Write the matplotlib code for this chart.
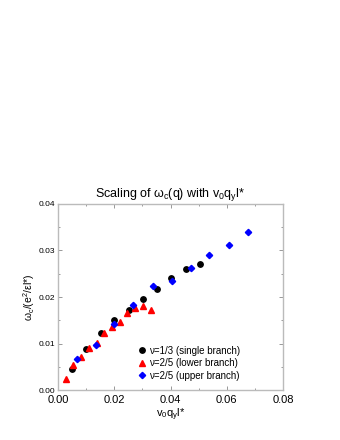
import matplotlib
matplotlib.use("Agg")
import matplotlib.pyplot as plt
from matplotlib.ticker import MultipleLocator

plt.rcParams['font.family'] = ['Liberation Sans', 'DejaVu Sans']
plt.rcParams['mathtext.fontset'] = 'custom'
plt.rcParams['mathtext.rm'] = 'Liberation Sans'
plt.rcParams['mathtext.it'] = 'Liberation Sans'

# nu=1/3 (single branch)
x13 = [0.0050, 0.0101, 0.0152, 0.0200, 0.0252, 0.0302, 0.0353, 0.0403, 0.0454, 0.0504]
y13 = [0.0046, 0.0088, 0.0123, 0.0151, 0.0173, 0.0196, 0.0218, 0.0240, 0.0260, 0.0272]

# nu=2/5 (lower branch)
x25_lo = [0.0027, 0.0055, 0.0082, 0.0110, 0.0137, 0.0164, 0.0192, 0.0219, 0.0246, 0.0274, 0.0301, 0.0329]
y25_lo = [0.0024, 0.0054, 0.0070, 0.0090, 0.0102, 0.0122, 0.0136, 0.0146, 0.0165, 0.0177, 0.0180, 0.0172]

# nu=2/5 (upper branch)
x25_up = [0.0068, 0.0134, 0.0200, 0.0268, 0.0337, 0.0404, 0.0472, 0.0538, 0.0607, 0.0674]
y25_up = [0.0067, 0.0096, 0.0143, 0.0183, 0.0224, 0.0234, 0.0262, 0.0290, 0.0312, 0.0340]

labels = ['\u03bd=1/3 (single branch)', '\u03bd=2/5 (lower branch)', '\u03bd=2/5 (upper branch)']

fig = plt.figure(figsize=(3.4, 4.4), dpi=100)
ax = fig.add_axes([0.1706, 0.1136, 0.6618, 0.4228])

ax.plot(x13, y13, 'o', color='black', markersize=3.9, label=labels[0])
ax.plot(x25_lo, y25_lo, '^', color='red', markersize=4.0, label=labels[1])
ax.plot(x25_up, y25_up, 'D', color='blue', markersize=3.2, label=labels[2])

ax.set_xlim(0, 0.08)
ax.set_ylim(0, 0.04)
ax.xaxis.set_major_locator(MultipleLocator(0.02))
ax.xaxis.set_minor_locator(MultipleLocator(0.01))
ax.yaxis.set_major_locator(MultipleLocator(0.01))
ax.yaxis.set_minor_locator(MultipleLocator(0.005))
ax.xaxis.set_major_formatter(plt.FormatStrFormatter('%.2f'))
ax.yaxis.set_major_formatter(plt.FormatStrFormatter('%.2f'))

ax.tick_params(which='both', direction='in', top=True, right=True, color='#888888')
ax.tick_params(which='major', length=3, width=0.6)
ax.tick_params(which='minor', length=1.5, width=0.6)
ax.tick_params(axis='x', labelsize=8, pad=3.5)
ax.tick_params(axis='y', labelsize=6, pad=2)
for s in ax.spines.values():
    s.set_color('#bbbbbb')
    s.set_linewidth(1.0)

ax.set_xlabel('v$_0$q$_y$l*', fontsize=8, labelpad=1)
ax.set_ylabel(r'$\omega_c$/(e$^2$/$\epsilon$l*)', fontsize=7.5, labelpad=1)
ax.set_title(r'Scaling of $\omega_c$(q) with v$_0$q$_y$l*', fontsize=9, pad=5)

ax.legend(loc='lower left', bbox_to_anchor=(0.33, 0.03), frameon=False, fontsize=7,
          handletextpad=0.1, handlelength=1.2, labelspacing=0.25, borderaxespad=0)

fig.savefig('out.png', dpi=100)
